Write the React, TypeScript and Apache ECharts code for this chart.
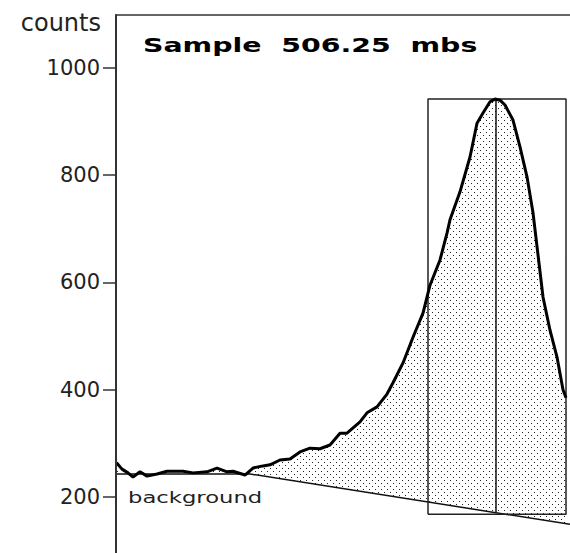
import React, { useEffect, useRef } from "react";
import * as echarts from "echarts";

// Spectrum (x = channel, y = counts)
const channel = [0, 1, 6, 12, 17, 24, 31, 41, 51, 67, 77, 91, 101, 111, 117, 129, 137, 147, 154, 164, 174, 184, 194, 204, 214, 224, 231, 244, 251, 261, 271, 277, 287, 297, 307, 314, 324, 331, 334, 344, 354, 361, 367, 374, 379, 384, 389, 397, 404, 411, 417, 423, 427, 434, 441, 447, 450];
const counts = [263, 263, 252, 245, 237, 247, 239, 243, 248, 248, 245, 247, 254, 247, 248, 241, 254, 258, 260, 269, 271, 284, 291, 290, 297, 319, 319, 340, 357, 368, 392, 413, 450, 498, 543, 595, 642, 692, 717, 769, 834, 897, 916, 937, 942, 940, 931, 903, 853, 797, 730, 636, 573, 511, 461, 400, 385];

// Background line
const backgroundChannel = [0, 134, 454];
const backgroundCounts = [243, 243, 149];

// Peak window
const windowChannel = [312, 450];
const windowCounts = [168, 942];
const peakChannel = 380;
const peakCounts = [171, 942];

const tickValues = [200, 400, 600, 800, 1000];
const titleText = "Sample  506.25  mbs";
const yName = "counts";
const backgroundLabel = "background";

function makePattern(): string {
  const c = document.createElement("canvas");
  c.width = 6;
  c.height = 6;
  const ctx = c.getContext("2d");
  if (ctx) {
    ctx.fillStyle = "#ffffff";
    ctx.fillRect(0, 0, 6, 6);
    ctx.fillStyle = "#222222";
    ctx.fillRect(0, 0, 1, 1);
    ctx.fillRect(3, 3, 1, 1);
  }
  return c.toDataURL();
}

export default function App() {
  const ref = useRef<HTMLDivElement>(null);
  useEffect(() => {
    if (!ref.current) return;
    const chart = echarts.init(ref.current, null, { renderer: "svg" });
    const pattern = makePattern();
    const curve = channel.map((c, i) => [c, counts[i]]);
    const bg = backgroundChannel.map((c, i) => [c, backgroundCounts[i]]);
    const rect = [
      [windowChannel[0], windowCounts[0]],
      [windowChannel[0], windowCounts[1]],
      [windowChannel[1], windowCounts[1]],
      [windowChannel[1], windowCounts[0]],
      [windowChannel[0], windowCounts[0]],
    ];
    const peak = [
      [peakChannel, peakCounts[0]],
      [peakChannel, peakCounts[1]],
    ];
    chart.setOption({
      animation: false,
      backgroundColor: "#ffffff",
      grid: { left: 116, right: 0, top: 15, bottom: 0 },
      xAxis: {
        type: "value",
        min: 0,
        max: 454,
        position: "top",
        axisLine: { show: true, onZero: false, lineStyle: { color: "#333", width: 1.5 } },
        axisTick: { show: false },
        axisLabel: { show: false },
        splitLine: { show: false },
        z: 10,
      },
      yAxis: {
        type: "value",
        min: 95.6,
        max: 1098.8,
        position: "left",
        name: yName,
        nameLocation: "end",
        nameGap: -8,
        nameTextStyle: {
          fontFamily: "DejaVu Sans",
          fontSize: 24,
          color: "#222",
          align: "right",
          verticalAlign: "middle",
          padding: [0, 15, 0, 0],
        },
        axisLine: { show: true, onZero: false, lineStyle: { color: "#333", width: 2 } },
        axisTick: { show: true, length: 13, customValues: tickValues, lineStyle: { color: "#333", width: 1.5 } },
        axisLabel: {
          customValues: tickValues,
          margin: 16,
          fontFamily: "DejaVu Sans",
          fontSize: 21,
          color: "#222",
          formatter: (v: number) => String(v),
        },
        splitLine: { show: false },
        z: 10,
      },
      series: [
        {
          type: "line",
          data: curve,
          showSymbol: false,
          symbol: "none",
          lineStyle: { width: 0 },
          areaStyle: {
            color: { image: pattern, repeat: "repeat", imageWidth: 6, imageHeight: 6 },
            opacity: 1,
            origin: "start",
          },
          z: 2,
        },
        {
          type: "line",
          data: bg,
          symbol: "none",
          lineStyle: { color: "#111", width: 1.5 },
          areaStyle: { color: "#ffffff", opacity: 1, origin: "start" },
          z: 3,
        },
        {
          type: "line",
          data: rect,
          symbol: "none",
          lineStyle: { color: "#222", width: 1.5 },
          z: 4,
        },
        {
          type: "line",
          data: peak,
          symbol: "none",
          lineStyle: { color: "#111", width: 1.5 },
          z: 4,
        },
        {
          type: "line",
          data: curve,
          symbol: "none",
          lineStyle: { color: "#000", width: 3 },
          z: 5,
        },
      ],
      graphic: [
        {
          type: "text",
          x: 143,
          y: 45,
          scaleX: 1.42,
          z: 100,
          style: {
            text: titleText,
            fontFamily: "DejaVu Sans",
            fontWeight: "bold",
            fontSize: 20,
            fill: "#000",
            textAlign: "left",
            textVerticalAlign: "middle",
          },
        },
        {
          type: "text",
          x: 128,
          y: 498,
          scaleX: 1.42,
          z: 100,
          style: {
            text: backgroundLabel,
            fontFamily: "DejaVu Sans",
            fontSize: 16,
            fill: "#222",
            textAlign: "left",
            textVerticalAlign: "middle",
          },
        },
      ],
    });
    return () => chart.dispose();
  }, []);
  return (
    <div
      ref={ref}
      style={{ position: "fixed", left: 0, top: 0, width: 570, height: 553, background: "#fff" }}
    />
  );
}
